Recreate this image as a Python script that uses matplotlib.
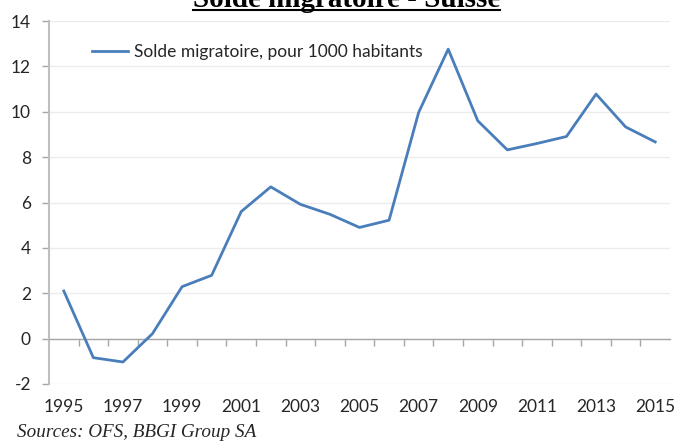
import numpy as np
import matplotlib
matplotlib.use("Agg")
import matplotlib.pyplot as plt
from matplotlib.lines import Line2D

# =========================================================
# DATA
# =========================================================

years = np.arange(1995, 2016)
solde = [2.1, -0.84, -1.03, 0.22, 2.29, 2.79, 5.6, 6.69, 5.92, 5.48, 4.9,
         5.22, 9.97, 12.76, 9.6, 8.32, 8.6, 8.91, 10.78, 9.33, 8.67]
year_labels = [str(y) for y in range(1995, 2016, 2)]
y_ticks = list(range(-2, 15, 2))

TITLE = "Solde migratoire - Suisse"
SERIES = "Solde migratoire, pour 1000 habitants"
SOURCE = "Sources: OFS, BBGI Group SA"

# =========================================================
# STYLE
# =========================================================

W, H = 677, 442
DPI = 100
LINE_COLOR = "#4a7ebb"
AXIS_GRAY = "#a6a6a6"
GRID_GRAY = "#ececec"
TEXT_COLOR = "#262626"
FS = 12.5

plt.rcParams["font.family"] = ["Lato", "DejaVu Sans"]

fig = plt.figure(figsize=(W / DPI, H / DPI), dpi=DPI)

# plot area in pixels: x 49..670, y 21..384
ax = fig.add_axes([49 / W, 1 - 384 / H, 621 / W, 363 / H])

ax.plot(years, solde, color=LINE_COLOR, lw=2.0, solid_joinstyle="round",
        label=SERIES, zorder=3)

ax.set_xlim(1994.5, 2015.5)
ax.set_ylim(-2, 14)

# y axis
ax.set_yticks(y_ticks)
ax.set_yticklabels([str(v) for v in y_ticks])
ax.tick_params(axis="y", direction="out", length=5, width=1, color=AXIS_GRAY,
               labelsize=FS, labelcolor=TEXT_COLOR, pad=8)
ax.yaxis.grid(True, color=GRID_GRAY, lw=1, zorder=0)
ax.spines["left"].set_color("#bfbfbf")
ax.spines["left"].set_linewidth(1.5)
ax.spines["right"].set_visible(False)
ax.spines["top"].set_visible(False)

# category axis crossing at zero, ticks between categories
ax.spines["bottom"].set_position(("data", 0))
ax.spines["bottom"].set_color(AXIS_GRAY)
ax.spines["bottom"].set_linewidth(1)
ax.set_xticks(np.arange(1995.5, 2015, 1.0))
ax.tick_params(axis="x", direction="out", length=5, width=1, color=AXIS_GRAY,
               labelbottom=False)

# year labels at the bottom of the plot area
sec = ax.secondary_xaxis("bottom")
sec.set_xticks(range(1995, 2016, 2))
sec.set_xticklabels(year_labels)
sec.tick_params(length=0, labelsize=FS, labelcolor=TEXT_COLOR, pad=11)
sec.spines["bottom"].set_visible(False)

# legend
ax.legend(loc="center left",
          bbox_to_anchor=((92 - 49) / 621, 1 - (52 - 21) / 363),
          frameon=False, fontsize=FS, handlelength=2.1, handletextpad=0.3,
          borderpad=0, borderaxespad=0, labelcolor=TEXT_COLOR)

# title (clipped at top), underlined
title = fig.text(346.5 / W, 1 - 7 / H, TITLE, ha="center", va="baseline",
                 family="Liberation Serif", weight="bold", fontsize=21,
                 color="black")
fig.canvas.draw()
bb = title.get_window_extent()
uy = 1 - 9.5 / H
fig.add_artist(Line2D([bb.x0 / W, bb.x1 / W], [uy, uy], color="black",
                      lw=1.5, transform=fig.transFigure))

# source
fig.text(17 / W, 1 - 437 / H, SOURCE, ha="left", va="baseline",
         family="Liberation Serif", style="italic", fontsize=13.8,
         color=TEXT_COLOR)

fig.savefig("out.png", dpi=DPI)
